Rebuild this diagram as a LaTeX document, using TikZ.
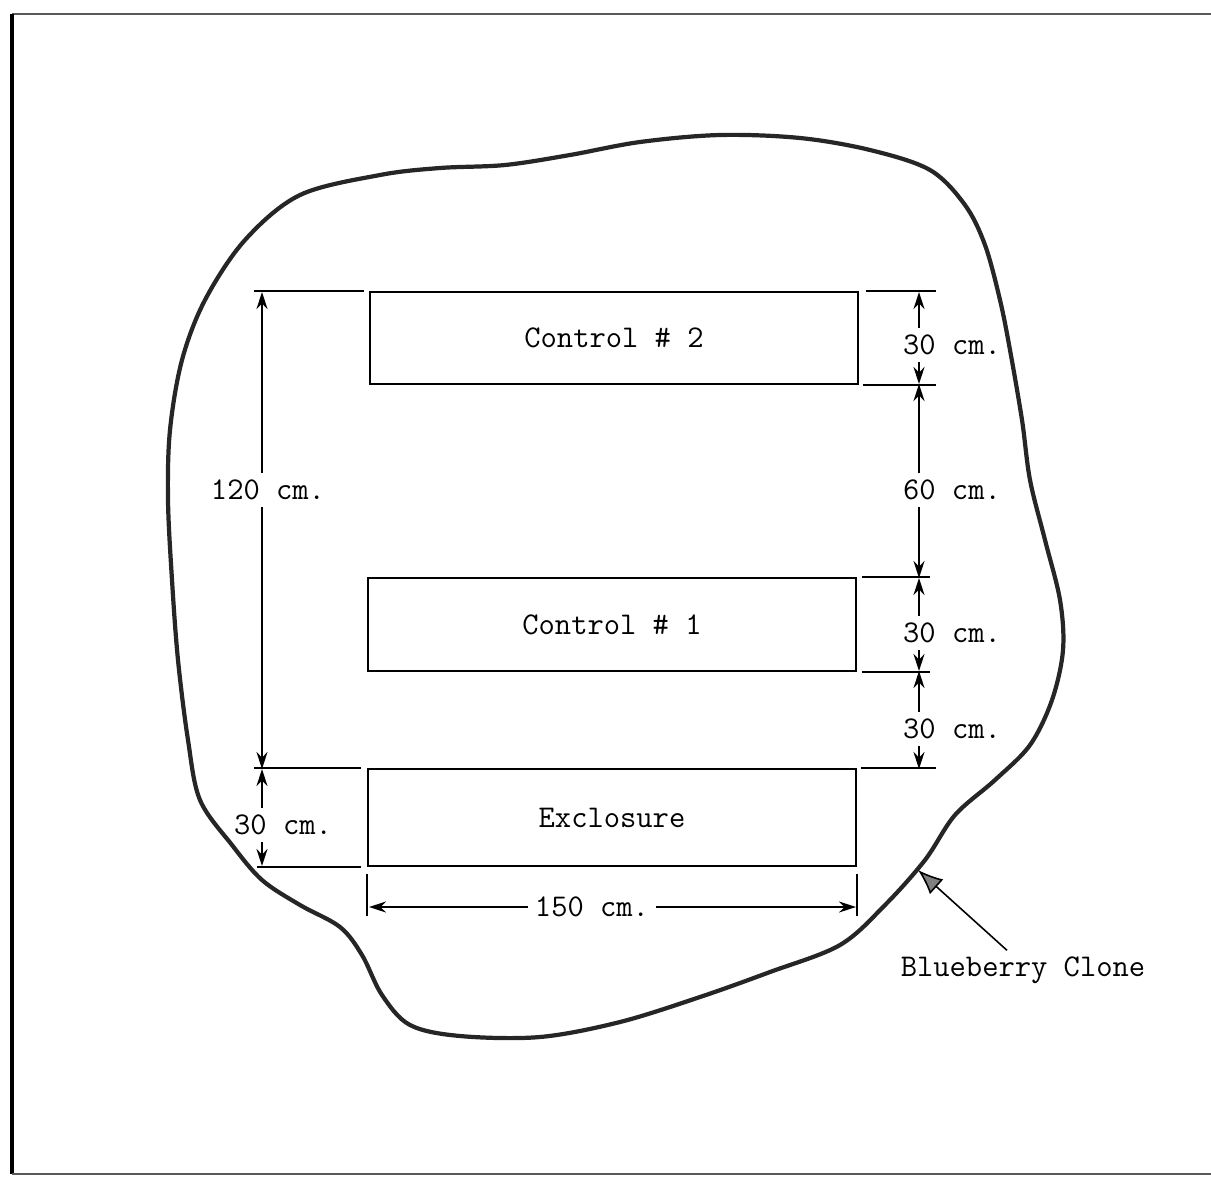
\documentclass[tikz,border=0pt]{standalone}
\usepackage{tikz}
\usetikzlibrary{calc,positioning,arrows.meta}

\tikzset{
  plotbox/.style={draw, line width=1.1pt, inner sep=0pt, minimum width=97.6mm},
  extline/.style={line width=0.7pt},
  dimline/.style={line width=0.8pt, -{Stealth[length=3.4mm,width=2.2mm]}},
  dimlabel/.style={inner sep=1.4mm},
  clone/.style={line width=2.4pt, black!85, line join=round},
}

\begin{document}
\begin{tikzpicture}[x=0.2mm, y=-0.2mm, font=\fontsize{18}{21}\selectfont\ttfamily]
  \useasboundingbox (0,0) rectangle (1211,1176);
  % frame
  \draw[line width=1pt, black!65] (1215,14) -- (12,14);
  \draw[line width=1.8pt] (12,14) -- (12,1174);
  \draw[line width=1pt, black!65] (12,1174) -- (1215,1174);

  % blueberry clone outline
  \draw[clone] plot[smooth cycle, tension=0.55] coordinates {
    (505,165) (570,155) (640,142) (720,135) (800,138) (870,150) (930,170)
    (965,205) (985,245) (1000,300) (1010,350) (1022,420) (1030,480)
    (1045,540) (1060,600) (1063,650) (1052,700) (1030,745) (995,780)
    (955,815) (925,860) (885,905) (840,945) (770,972) (700,997) (620,1022)
    (540,1037) (460,1036) (410,1025) (382,995) (362,955) (340,927)
    (300,905) (262,880) (232,845) (200,800) (188,740) (178,660) (172,580)
    (168,500) (170,430) (182,360) (205,300) (245,240) (300,195) (380,175)
    (440,168)};

  % plots
  \node[plotbox, minimum height=18.4mm] (c2) at (614,338) {Control \# 2};
  \node[plotbox, minimum height=18.6mm] (c1) at (612,624.5) {Control \# 1};
  \node[plotbox, minimum height=19.4mm] (ex) at (612,817.5) {Exclosure};

  % extension lines
  \draw[extline] ([xshift=1.4mm]c2.north east) -- ++(70,0);
  \draw[extline] ([xshift=0.8mm]c2.south east) -- ++(73,0);
  \draw[extline] ([xshift=1mm]c1.north east) -- ++(68,0);
  \draw[extline] ([xshift=1mm]c1.south east) -- ++(68,0);
  \draw[extline] ([xshift=0.8mm]ex.north east) -- ++(75,0);
  \draw[extline] ([xshift=-1mm]c2.north west) -- ++(-110,0);
  \draw[extline] ([xshift=-1.2mm]ex.north west) -- ++(-107,0);
  \draw[extline] ([xshift=-1.2mm]ex.south west) -- ++(-104,0);
  \draw[extline] ([yshift=-1.4mm]ex.south west) -- ++(0,42);
  \draw[extline] ([yshift=-1.4mm]ex.south east) -- ++(0,42);

  % right dimensions
  \coordinate (r1) at (919,292);
  \coordinate (r2) at (919,384);
  \coordinate (r3) at (919,578);
  \coordinate (r4) at (919,671);
  \coordinate (r5) at (919,769);
  \node[dimlabel] (d1) at (952,345) {30 cm.};
  \node[dimlabel] (d2) at (952,490) {60 cm.};
  \node[dimlabel] (d3) at (952,633) {30 cm.};
  \node[dimlabel] (d4) at (952,729) {30 cm.};
  \draw[dimline] (d1.north -| r1) -- (r1);
  \draw[dimline] (d1.south -| r1) -- (r2);
  \draw[dimline] (d2.north -| r2) -- (r2);
  \draw[dimline] (d2.south -| r3) -- (r3);
  \draw[dimline] (d3.north -| r3) -- (r3);
  \draw[dimline] (d3.south -| r4) -- (r4);
  \draw[dimline] (d4.north -| r4) -- (r4);
  \draw[dimline] (d4.south -| r5) -- (r5);

  % left dimensions
  \coordinate (l1) at (262,292);
  \coordinate (l2) at (262,769);
  \coordinate (l3) at (262,866);
  \node[dimlabel] (d5) at (268,490) {120 cm.};
  \node[dimlabel] (d6) at (283,825) {30 cm.};
  \draw[dimline] (d5.north -| l1) -- (l1);
  \draw[dimline] (d5.south -| l2) -- (l2);
  \draw[dimline] (d6.north -| l2) -- (l2);
  \draw[dimline] (d6.south -| l3) -- (l3);

  % width
  \coordinate (b1) at (369,907);
  \coordinate (b2) at (856,907);
  \node[dimlabel] (d7) at (592,907) {150 cm.};
  \draw[dimline] (d7.west) -- (b1);
  \draw[dimline] (d7.east) -- (b2);

  % label for the clone
  \coordinate (tip) at (918,870);
  \node (bc) at (1023,970) {Blueberry Clone};
  \draw[line width=0.9pt, -{Latex[length=5mm,width=4mm,fill=black!50]}]
    ([xshift=-3.2mm]bc.north) -- (tip);
\end{tikzpicture}
\end{document}
